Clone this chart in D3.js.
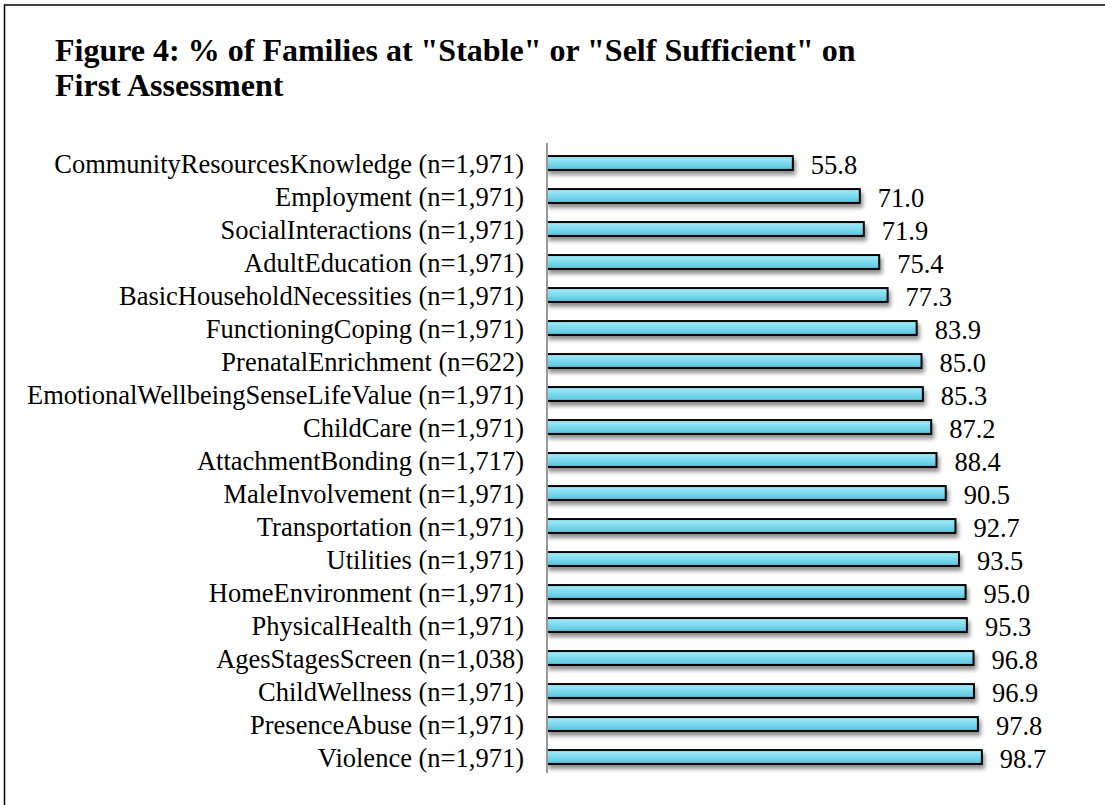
<!DOCTYPE html>
<html>
<head>
<meta charset="utf-8">
<script src="https://cdn.jsdelivr.net/npm/d3@7"></script>
<style>
  body { margin: 0; background: #fff; }
  text { font-family: "Liberation Serif", "Times New Roman", serif; fill: #000; }
</style>
</head>
<body>
<div id="chart"></div>
<script>
// data, top to bottom
const categories = [
    'CommunityResourcesKnowledge (n=1,971)',
    'Employment (n=1,971)',
    'SocialInteractions (n=1,971)',
    'AdultEducation (n=1,971)',
    'BasicHouseholdNecessities (n=1,971)',
    'FunctioningCoping (n=1,971)',
    'PrenatalEnrichment (n=622)',
    'EmotionalWellbeingSenseLifeValue (n=1,971)',
    'ChildCare (n=1,971)',
    'AttachmentBonding (n=1,717)',
    'MaleInvolvement (n=1,971)',
    'Transportation (n=1,971)',
    'Utilities (n=1,971)',
    'HomeEnvironment (n=1,971)',
    'PhysicalHealth (n=1,971)',
    'AgesStagesScreen (n=1,038)',
    'ChildWellness (n=1,971)',
    'PresenceAbuse (n=1,971)',
    'Violence (n=1,971)'
];
const values = [55.8, 71.0, 71.9, 75.4, 77.3, 83.9, 85.0, 85.3, 87.2, 88.4,
    90.5, 92.7, 93.5, 95.0, 95.3, 96.8, 96.9, 97.8, 98.7];
const titleLines = ['Figure 4: % of Families at "Stable" or "Self Sufficient" on', 'First Assessment'];

const width = 1105, height = 805;
const data = categories.map((c, i) => ({ name: c, value: values[i] }));

const svg = d3.select('#chart').append('svg')
    .attr('width', width)
    .attr('height', height);

const defs = svg.append('defs');
const grad = defs.append('linearGradient')
    .attr('id', 'barFill')
    .attr('x1', 0).attr('y1', 0).attr('x2', 0).attr('y2', 1);
grad.append('stop').attr('offset', '0%').attr('stop-color', '#a6eefb');
grad.append('stop').attr('offset', '100%').attr('stop-color', '#55c4de');

const shadow = defs.append('filter')
    .attr('id', 'shadow')
    .attr('x', '-5%').attr('y', '-50%').attr('width', '110%').attr('height', '250%');
shadow.append('feGaussianBlur').attr('in', 'SourceAlpha').attr('stdDeviation', 2.2);
shadow.append('feOffset').attr('dx', 2).attr('dy', 4).attr('result', 'off');
shadow.append('feComponentTransfer').append('feFuncA').attr('type', 'linear').attr('slope', 0.45);
const merge = shadow.append('feMerge');
merge.append('feMergeNode');
merge.append('feMergeNode').attr('in', 'SourceGraphic');

// outer frame (only top and left edges fall inside the picture)
svg.append('rect')
    .attr('x', 4.5).attr('y', 5)
    .attr('width', 1200).attr('height', 900)
    .attr('fill', 'none')
    .attr('stroke', '#000')
    .attr('stroke-width', 1.5);

svg.append('text')
    .attr('x', 55)
    .attr('y', 61)
    .attr('font-size', 32)
    .attr('font-weight', 'bold')
    .selectAll('tspan')
    .data(titleLines)
    .join('tspan')
    .attr('x', 55)
    .attr('dy', (d, i) => i === 0 ? 0 : 35)
    .text(d => d);

const x0 = 547;
const x = d3.scaleLinear()
    .domain([0, 100])
    .range([x0, x0 + 440.6]);

const y = d3.scaleBand()
    .domain(categories)
    .range([146.5, 773.5])
    .paddingInner(0.58)
    .paddingOuter(0.29);

const bars = svg.append('g').attr('class', 'bars');
bars.selectAll('rect')
    .data(data)
    .join('rect')
    .attr('x', x(0))
    .attr('y', d => y(d.name))
    .attr('width', d => x(d.value) - x(0))
    .attr('height', y.bandwidth())
    .attr('fill', 'url(#barFill)')
    .attr('stroke', '#000')
    .attr('stroke-width', 2)
    .attr('filter', 'url(#shadow)');

// category axis
const yAxis = svg.append('g')
    .attr('transform', `translate(${x0},0)`)
    .call(d3.axisLeft(y).tickSize(0).tickPadding(23));
yAxis.select('.domain')
    .attr('stroke', '#999')
    .attr('stroke-width', 2)
    .attr('d', `M0,${143}V${773}`);
yAxis.selectAll('text')
    .attr('font-size', 26.5)
    .attr('font-family', '"Liberation Serif", "Times New Roman", serif')
    .attr('fill', '#000')
    .attr('dy', '0.38em');

// value labels
svg.append('g').selectAll('text')
    .data(data)
    .join('text')
    .attr('x', d => x(d.value) + 18)
    .attr('y', d => y(d.name) + y.bandwidth() / 2)
    .attr('dy', '0.4em')
    .attr('font-size', 26.5)
    .text(d => d.value.toFixed(1));
</script>
</body>
</html>
